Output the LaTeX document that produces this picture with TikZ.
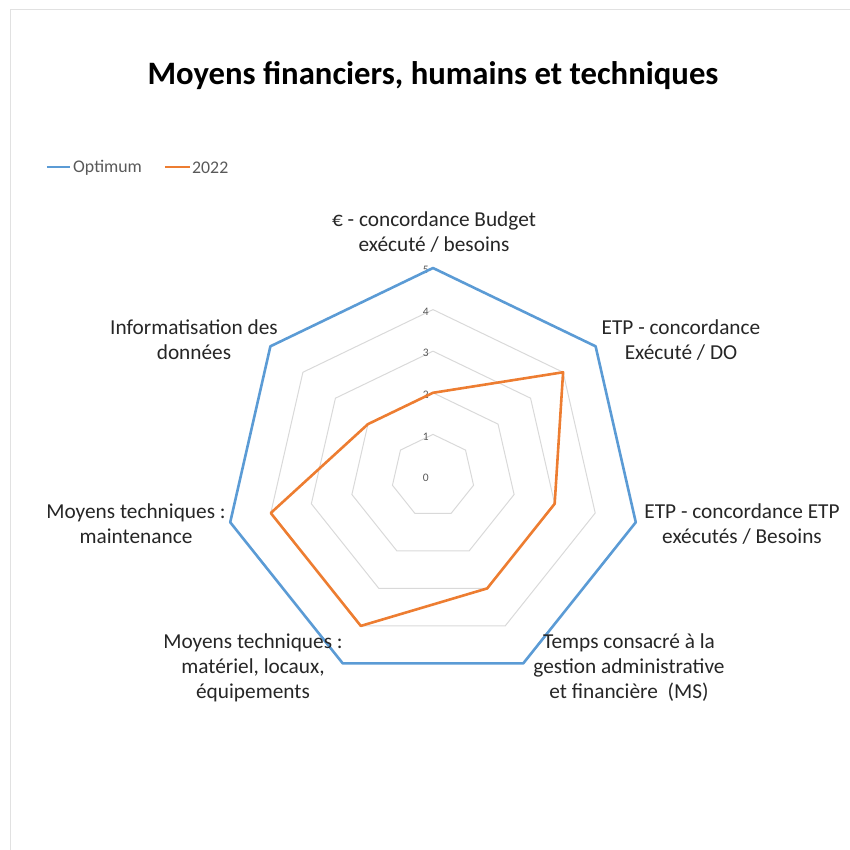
\documentclass[tikz,border=0pt]{standalone}
\usepackage{fontspec}
\setmainfont{Carlito}

\definecolor{optblue}{HTML}{5B9BD5}
\definecolor{actorange}{HTML}{ED7D31}
\definecolor{gridgray}{HTML}{D9D9D9}
\definecolor{textgray}{HTML}{595959}

\begin{document}
\begin{tikzpicture}[
        x=1pt, y=1pt,
        gridline/.style={draw=gridgray, line width=1pt, line join=round},
        series/.style={line width=2.6pt, line join=round},
        catlabel/.style={align=center, font=\fontsize{21.3}{25}\selectfont, text=black!85},
        ticklabel/.style={font=\fontsize{11.5}{12}\selectfont, text=textgray, inner sep=1pt},
        legendtext/.style={font=\fontsize{17.8}{20}\selectfont, text=textgray, anchor=west, inner sep=0pt}
    ]
    % page: 850 x 850, origin at the chart centre
    \useasboundingbox (-433,-374) rectangle (417,476);
    \draw[gridgray!80, line width=0.8pt] (-423,-400) rectangle (440,467);

    \node[font=\bfseries\fontsize{32.7}{38}\selectfont] (title) at (0,400) {Moyens financiers, humains et techniques};

    % legend
    \coordinate (optA) at (-386,309);
    \coordinate (optB) at (-363,309);
    \draw[optblue, line width=2.8pt] (optA) -- (optB);
    \node[legendtext] (optname) at (-360,308) {Optimum};
    \coordinate (actA) at (-268,309);
    \coordinate (actB) at (-243,309);
    \draw[actorange, line width=2.8pt] (actA) -- (actB);
    \node[legendtext] (actname) at (-241,308) {2022};

    % grid heptagons
    \foreach \r in {1,...,4} {
        \draw[gridline] (90:\r*41.6)
            \foreach \k in {1,...,6} { -- (90-\k*360/7:\r*41.6) } -- cycle;
    }
    \foreach \r in {0,...,5} {
        \node[ticklabel, anchor=south east] (tick\r) at (-3,\r*41.6-7) {\r};
    }

    % series
    \draw[series, optblue] (90:5*41.6)
        \foreach \k in {1,...,6} { -- (90-\k*360/7:5*41.6) } -- cycle;
    \draw[series, actorange] (90:2*41.6) -- (90-360/7:4*41.6) -- (90-2*360/7:3*41.6)
        -- (90-3*360/7:3*41.6) -- (90-4*360/7:4*41.6) -- (90-5*360/7:4*41.6)
        -- (90-6*360/7:2*41.6) -- cycle;

    % category labels
    \node[catlabel] (budget) at (1,244) {€ - concordance Budget\\exécuté / besoins};
    \node[catlabel] (etpdo) at (248,136) {ETP - concordance\\Exécuté / DO};
    \node[catlabel] (etpbes) at (309,-48) {ETP - concordance ETP\\exécutés / Besoins};
    \node[catlabel] (temps) at (196,-192) {Temps consacré à la\\gestion administrative\\et financière~ (MS)};
    \node[catlabel] (materiel) at (-180,-192) {Moyens techniques :\\matériel, locaux,\\équipements};
    \node[catlabel] (maint) at (-297,-48) {Moyens techniques :\\maintenance};
    \node[catlabel] (info) at (-239,136) {Informatisation des\\données};
\end{tikzpicture}
\end{document}
